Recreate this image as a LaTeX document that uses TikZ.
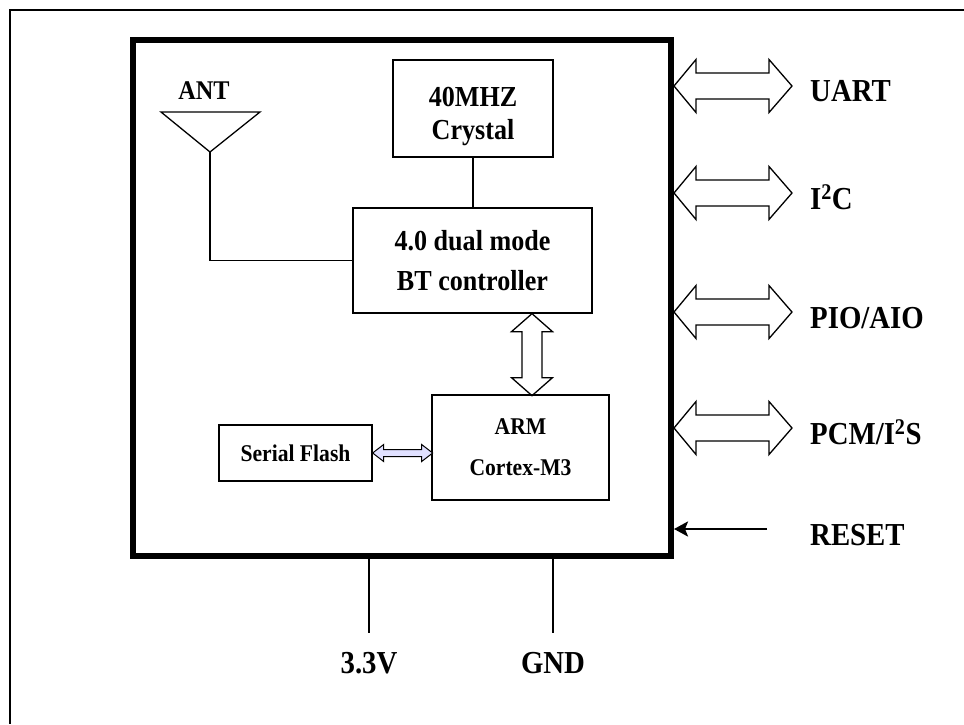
\documentclass[tikz,border=0pt]{standalone}
\usepackage{fontspec}
\setmainfont{Liberation Serif}[FakeStretch=0.9]
\usetikzlibrary{arrows.meta}

\begin{document}
\begin{tikzpicture}[x=1pt, y=-1pt,
    block/.style={draw, line width=1.3pt, align=center},
    pin/.style={inner sep=2pt, font=\bfseries\fontsize{32}{38}\selectfont},
    bus/.style={draw, line width=1.3pt, line join=miter}]
    \useasboundingbox (0,0) rectangle (964,724);

    % Outer frame
    \draw[line width=1.5pt] (964,10) -- (10,10) -- (10,724);

    % Module outline
    \node[draw, line width=6pt, minimum width=538pt, minimum height=516pt] (chip) at (402,298) {};

    % Blocks
    \node[block, minimum width=160pt, minimum height=97pt, text height=69pt, font=\bfseries\fontsize{29}{33}\selectfont] (xtal) at (473,108.5) {40MHZ\\Crystal};
    \node[block, minimum width=239pt, minimum height=105pt, font=\bfseries\fontsize{29}{40}\selectfont] (bt) at (472.5,260.5) {4.0 dual mode\\BT controller};
    \node[block, minimum width=177pt, minimum height=105pt, font=\bfseries\fontsize{24}{41}\selectfont] (arm) at (520.5,447.5) {ARM\\Cortex-M3};
    \node[block, minimum width=153pt, minimum height=56pt, font=\bfseries\fontsize{24}{28}\selectfont] (flash) at (295.5,453) {Serial Flash};

    % Antenna
    \node[inner sep=2pt, anchor=base, font=\bfseries\fontsize{27}{32}\selectfont] (ant) at (204,99) {ANT};
    \coordinate (feed) at (210,152);
    \draw[line width=1.3pt] (161,112) -- (260,112) -- (feed) -- cycle;
    \draw[line width=1.3pt] (feed) |- (bt.west);
    \draw[line width=1.3pt] (xtal.south) -- (xtal.south |- bt.north);

    % Internal buses
    \draw[bus] (bt.south -| 532,0) -- ++(20.5,18) -- ++(-10.5,0) -- ++(0,46) -- ++(10.5,0) -- ++(-20.5,18) -- ++(-20.5,-18) -- ++(10.5,0) -- ++(0,-46) -- ++(-10.5,0) -- cycle;
    \draw[bus, line width=1pt, fill=blue!12] (flash.east) -- ++(11,-8.5) -- ++(0,5) -- ++(38,0) -- ++(0,-5) -- ++(11,8.5) -- ++(-11,8.5) -- ++(0,-5) -- ++(-38,0) -- ++(0,5) -- cycle;

    % Interfaces
    \draw[bus] (chip.east |- 0,86) -- ++(22,-26.5) -- ++(0,13.5) -- ++(73,0) -- ++(0,-13.5) -- ++(23,26.5) -- ++(-23,26.5) -- ++(0,-13.5) -- ++(-73,0) -- ++(0,13.5) -- cycle;
    \draw[bus] (chip.east |- 0,193) -- ++(22,-26.5) -- ++(0,13.5) -- ++(73,0) -- ++(0,-13.5) -- ++(23,26.5) -- ++(-23,26.5) -- ++(0,-13.5) -- ++(-73,0) -- ++(0,13.5) -- cycle;
    \draw[bus] (chip.east |- 0,312) -- ++(22,-26.5) -- ++(0,13.5) -- ++(73,0) -- ++(0,-13.5) -- ++(23,26.5) -- ++(-23,26.5) -- ++(0,-13.5) -- ++(-73,0) -- ++(0,13.5) -- cycle;
    \draw[bus] (chip.east |- 0,428) -- ++(22,-26.5) -- ++(0,13.5) -- ++(73,0) -- ++(0,-13.5) -- ++(23,26.5) -- ++(-23,26.5) -- ++(0,-13.5) -- ++(-73,0) -- ++(0,13.5) -- cycle;
    \node[pin, anchor=base west] (uart) at (808,101) {UART};
    \node[pin, anchor=base west] (iic) at (808,209) {I\textsuperscript{2}C};
    \node[pin, anchor=base west] (pio) at (808,328) {PIO/AIO};
    \node[pin, anchor=base west] (pcm) at (808,444) {PCM/I\textsuperscript{2}S};
    \node[pin, anchor=base west] (reset) at (808,545) {RESET};

    % Reset input
    \coordinate (rstin) at (767,529);
    \draw[line width=2.5pt, -{Stealth[length=14pt, width=15pt, inset=3pt]}] (rstin) -- (chip.east |- rstin);

    % Power
    \node[pin, anchor=base] (vcc) at (369,673) {3.3V};
    \node[pin, anchor=base] (gnd) at (553,673) {GND};
    \draw[line width=2pt, shorten >=17pt] (chip.south -| vcc) -- (vcc);
    \draw[line width=2pt, shorten >=17pt] (chip.south -| gnd) -- (gnd);
\end{tikzpicture}
\end{document}
